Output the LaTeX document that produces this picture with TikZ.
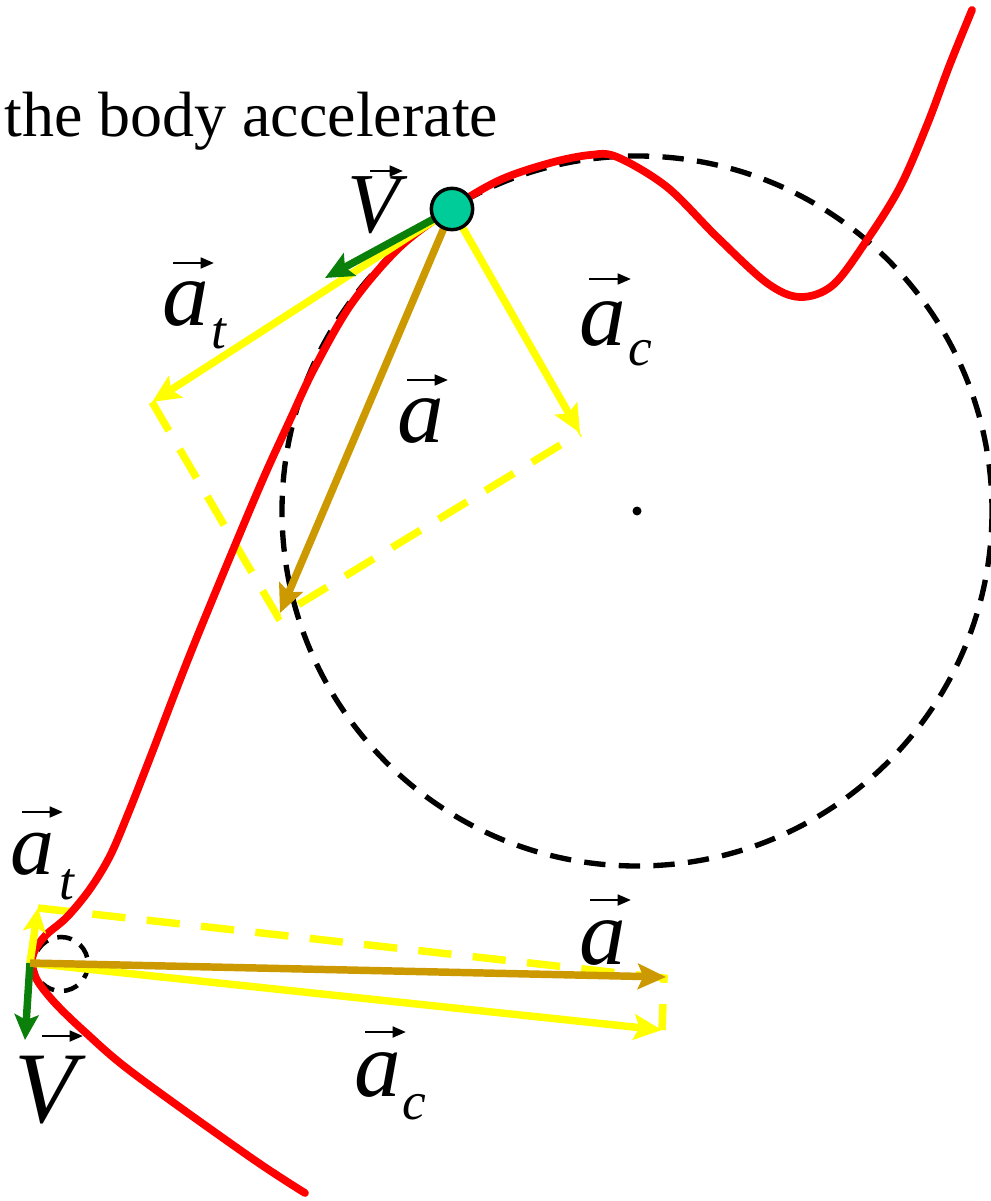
\documentclass[tikz,border=0pt]{standalone}
\usepackage{fontspec}
\setmainfont{Liberation Serif}
\usetikzlibrary{arrows.meta}
\definecolor{vyel}{HTML}{FFFF00}
\definecolor{vgold}{HTML}{CC9900}
\definecolor{vgreen}{HTML}{0A800A}
\definecolor{vred}{HTML}{FF0000}
\definecolor{vteal}{HTML}{00CC99}
\begin{document}
\begin{tikzpicture}[x=0.75pt,y=-0.75pt,
  vec/.style={line width=5.6pt,-{Stealth[length=21pt,width=19pt,inset=4pt]}},
  ydash/.style={vyel,line width=5.6pt,dash pattern=on 25pt off 16pt},
  bigcirc/.style={black,line width=4pt,dash pattern=on 16pt off 10pt},
  smallcirc/.style={black,line width=3.4pt,dash pattern=on 11pt off 7.5pt},
  curve/.style={vred,line width=5.8pt,line cap=round},
  lab/.style={anchor=base west,inner sep=0pt,font=\fontsize{70}{70}\selectfont\itshape},
  sublab/.style={anchor=base west,inner sep=0pt,font=\fontsize{40}{40}\selectfont\itshape},
  vlab/.style={anchor=base west,inner sep=0pt,font=\fontsize{64}{64}\selectfont\itshape},
  harr/.style={line width=2pt,-{Triangle[length=10pt,width=8pt]}},
  ptnode/.style={circle,fill=vteal,draw=black,line width=2.6pt,minimum size=31pt,inner sep=0pt}
]
\useasboundingbox (0,0) rectangle (990,1201);

% coordinates
\coordinate (P) at (452,209);
\coordinate (O) at (637,511);
\coordinate (Vt) at (325,278);
\coordinate (ATt) at (152,402);
\coordinate (ACt) at (580,433);
\coordinate (At) at (280,613);
\coordinate (Cr) at (278,617);
\coordinate (B) at (30,963);
\coordinate (Vb) at (25,1040);
\coordinate (ATb) at (38,908);
\coordinate (Ab) at (666,977);
\coordinate (ACb) at (662,1030);
\coordinate (Db) at (664,978);
\coordinate (Sb) at (61,964);

% dashed osculating circles
\draw[bigcirc] (O) circle[radius=355];
\fill (O) circle[radius=4.5];
\draw[smallcirc] (Sb) circle[radius=27];

% parallelogram completions
\draw[ydash] (ATt) -- (Cr) -- (ACt);
\draw[ydash] (ATb) -- (Db) -- (ACb);

% trajectory
\draw[curve] plot[smooth,tension=0.55] coordinates {
 (972,10) (950,64) (927,125) (900,187) (867,240) (833,285) (800,297)
 (767,283) (717,237) (667,187) (617,157) (590,155) (550,163) (500,180)
 (452,208) (400,247) (352,303) (315,367) (290,420) (257,493)
 (193,647) (150,758) (128,814) (110,856) (90,889) (67,917) (46,935)
 (35,950) (32,963) (37,980) (55,1003) (85,1032) (133,1073) (250,1157) (305,1193)};

% yellow components
\draw[vec,vyel] (P) -- (ATt);
\draw[vec,vyel] (P) -- (ACt);
\draw[vec,vyel] (B) -- (ACb);
\draw[vec,vyel,-{Stealth[length=18pt,width=17pt,inset=4pt]}] (B) -- (ATb);

% velocities
\draw[vec,vgreen] (P) -- (Vt);
\draw[vec,vgreen,-{Stealth[length=19pt,width=18pt,inset=4pt]}] (B) -- (Vb);

% total accelerations
\draw[vec,vgold] (P) -- (At);
\draw[vec,vgold] (B) -- (Ab);

% the body
\node[ptnode] (dot) at (P) {};

% title
\node[anchor=base west,inner sep=0pt,font=\fontsize{48}{48}\selectfont] (title) at (4,137) {the body accelerate};

% labels, upper point
\node[vlab] (lV1) at (347,233) {V};
\draw[harr] (370,171) -- (403,171);
\node[lab] (lat1) at (162,326) {a};
\node[sublab] (lt1) at (211,349) {t};
\draw[harr] (173,263) -- (214,263);
\node[lab] (lac1) at (579,346) {a};
\node[sublab] (lc1) at (628,366) {c};
\draw[harr] (589,279) -- (631,279);
\node[lab] (la1) at (397,442) {a};
\draw[harr] (407,380) -- (448,380);

% labels, lower point
\node[lab,font=\fontsize{66}{66}\selectfont\itshape] (lat2) at (10,874) {a};
\node[sublab] (lt2) at (59,899) {t};
\draw[harr] (22,812) -- (63,812);
\node[lab] (la2) at (579,964) {a};
\draw[harr] (590,900) -- (631,900);
\node[lab] (lac2) at (354,1096) {a};
\node[sublab] (lc2) at (402,1119) {c};
\draw[harr] (365,1032) -- (406,1032);
\node[vlab,font=\fontsize{76}{76}\selectfont\itshape] (lV2) at (14,1122) {V};
\draw[harr] (42,1036) -- (83,1036);
\end{tikzpicture}
\end{document}
